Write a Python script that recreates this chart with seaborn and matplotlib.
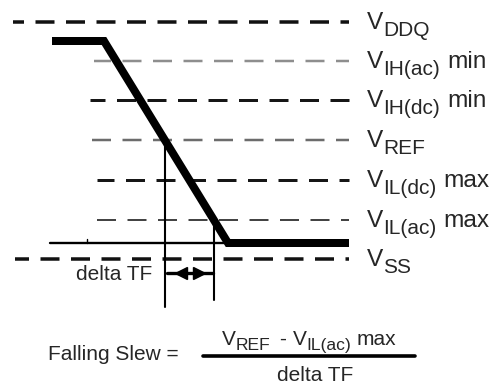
import numpy as np
import matplotlib
matplotlib.use("Agg")
import matplotlib.pyplot as plt
import seaborn as sns

# ------------------------------------------
# DATA (diagram units = pixels of the 498x385 picture, y downward)
# ------------------------------------------
level_sub = ['DDQ', 'IH(ac)', 'IH(dc)', 'REF', 'IL(dc)', 'IL(ac)', 'SS']
level_tail = ['', 'min', 'min', '', 'max', 'max', '']
level_y = [22, 61, 100, 140, 180, 220, 259]

# falling signal: high, ramp, low
sig_x = [52, 104, 228, 349]
sig_y = [41, 41, 243, 243]

# ------------------------------------------
# STYLES
# ------------------------------------------
level_start = [13, 94, 90, 92, 97, 97, 15]
level_color = ['#111111', '#8e8e8e', '#161616', '#6c6c6c', '#161616', '#444444', '#111111']
level_width = [3.5, 2.5, 3.0, 2.5, 3.0, 2.0, 3.5]
level_phase = [8, 2, 4, 0, 2, 0, 5]
PX = 72 / 100  # pixel -> point at dpi 100
TXT = '#262626'

sns.set_style('white')
plt.rcParams['font.family'] = ['Liberation Sans', 'DejaVu Sans']
plt.rcParams['lines.scale_dashes'] = False

fig = plt.figure(figsize=(4.98, 3.85), dpi=100)
ax = fig.add_axes([0, 0, 1, 1])

# reference levels (dashed)
for y, x0, c, w, ph in zip(level_y, level_start, level_color, level_width, level_phase):
    ax.plot([x0, 349], [y, y], color=c, lw=w * PX,
            linestyle=(ph * PX, (19 * PX, 11.5 * PX)), dash_capstyle='butt')

# thin reference line under the ramp (with its little tick)
ax.plot([50, sig_x[2]], [sig_y[2], sig_y[2]], color='black', lw=1.7)
ax.plot([87, 87], [sig_y[2] - 4, sig_y[2]], color='black', lw=1.0)

# the signal itself
sns.lineplot(x=sig_x, y=sig_y, sort=False, estimator=None, color='black',
             lw=8 * PX, ax=ax, solid_joinstyle='miter', solid_capstyle='butt')

# where the ramp crosses VREF and VIL(ac) max
ramp_y = [sig_y[1], sig_y[2]]
ramp_x = [sig_x[1], sig_x[2]]
x_ref = np.interp(level_y[3], ramp_y, ramp_x)
x_il = np.interp(level_y[5], ramp_y, ramp_x)
ax.plot([x_ref, x_ref], [level_y[3] + 5, 307], color='black', lw=1.5)
ax.plot([x_il, x_il], [level_y[5] + 2, 300], color='black', lw=1.5)

# delta TF dimension
ax.plot([x_ref + 2, x_il - 1], [273, 273], color='black', lw=2.4)
ax.plot([x_ref + 16], [273], marker='<', ms=9, color='black')
ax.plot([x_ref + 34], [273], marker='>', ms=9, color='black')
ax.text(152, 275, 'delta TF', fontsize=15, color=TXT, ha='right', va='center')

ax.set_xlim(0, 498)
ax.set_ylim(385, 0)
ax.axis('off')


def rich(x, y, parts, size, sub_size, drop):
    r = fig.canvas.get_renderer()
    for text, kind in parts:
        if kind == 'gap':
            x += text
            continue
        fs = sub_size if kind == 'sub' else size
        dy = drop if kind == 'sub' else 0
        t = ax.text(x, y + dy, text, fontsize=fs, color=TXT, ha='left', va='baseline')
        x += t.get_window_extent(r).width
    return x


# labels on the right
for y, sub, tail in zip(level_y, level_sub, level_tail):
    parts = [('V', 'main'), (sub, 'sub')]
    if tail:
        parts += [(7, 'gap'), (tail, 'main')]
    rich(367, y + 7, parts, 17.6, 15, 7)

# formula at the bottom
ax.text(48, 360, 'Falling Slew =', fontsize=15, color=TXT, ha='left', va='baseline')
rich(222, 345, [('V', 'main'), ('REF', 'sub'), (9, 'gap'), ('-', 'main'), (6, 'gap'),
                ('V', 'main'), ('IL(ac)', 'sub'), (5, 'gap'), ('max', 'main')], 15, 12.6, 5)
ax.plot([203, 415], [356, 356], color='black', lw=2.6)
ax.text(315, 381, 'delta TF', fontsize=15, color=TXT, ha='center', va='baseline')

plt.savefig('out.png', dpi=100)
